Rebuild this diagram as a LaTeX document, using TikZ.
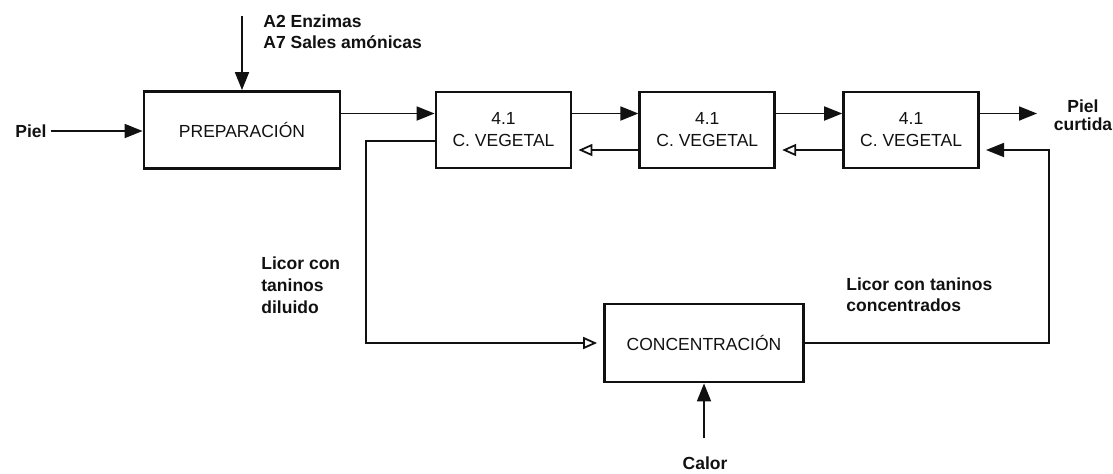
\documentclass[tikz,border=0pt]{standalone}
\usepackage{fontspec}
\setmainfont{Liberation Sans}
\usepackage{tikz}
\usetikzlibrary{positioning,arrows.meta,calc}
\definecolor{ink}{HTML}{111111}
\tikzset{
  box/.style={
    draw=ink, line width=1.4pt, align=center, inner sep=2pt,
    font=\fontsize{8.75}{11}\selectfont, text=ink,
  },
  stage/.style  ={box, minimum width=67.5pt, minimum height=38pt},
  flow/.style   ={-{Triangle[length=9pt,width=7pt]}, draw=ink, line width=0.9pt},
  backflow/.style={-{Triangle[open,length=7pt,width=6pt]}, draw=ink,
                  line width=0.9pt, shorten >=3pt},
  lbl/.style    ={font=\bfseries\fontsize{8.75}{10.5}\selectfont, text=ink,
                  align=left, inner sep=2pt},
}

\begin{document}
\begin{tikzpicture}[x=0.5pt, y=-0.5pt]
\useasboundingbox (0,0) rectangle (1113,473);

% ============================================ upper row: preparation + tanning
\node[box, minimum width=98pt, minimum height=38.5pt] (prep) at (242,130)
  {PREPARACIÓN};
\node[stage] (veg1) at (503.5,130) {4.1\\C. VEGETAL};
\node[stage, right=33pt of veg1] (veg2) {4.1\\C. VEGETAL};
\node[stage, right=33pt of veg2] (veg3) {4.1\\C. VEGETAL};

\node[lbl] (piel) at (31,131) {Piel};
\draw[flow] (piel.east) -- (prep.west |- piel.east);

\coordinate (addin) at (242,16);
\node[lbl, anchor=west] (adds) at (259,32) {A2 Enzimas\\A7 Sales amónicas};
\draw[flow] (addin) -- (prep.north);

% hides go forward along the top, the liquor goes back underneath
\draw[flow] ($(prep.east)+(0,-16.5)$) -- ($(veg1.west)+(0,-16.5)$);
\draw[flow] ($(veg1.east)+(0,-16.5)$) -- ($(veg2.west)+(0,-16.5)$);
\draw[flow] ($(veg2.east)+(0,-16.5)$) -- ($(veg3.west)+(0,-16.5)$);
\draw[backflow] ($(veg2.west)+(0,20)$) -- ($(veg1.east)+(0,20)$);
\draw[backflow] ($(veg3.west)+(0,20)$) -- ($(veg2.east)+(0,20)$);

\node[lbl, align=center, font=\bfseries\fontsize{8.75}{9}\selectfont]
  (curt) at (1083,115) {Piel\\curtida};
\coordinate (outend) at (1037,113.5);
\draw[flow] (veg3.east |- outend) -- (outend);

% ============================================ lower loop: liquor concentration
\node[box, minimum width=99.5pt, minimum height=39pt] (conc) at (704,343)
  {CONCENTRACIÓN};

\draw[backflow] ($(veg1.west)+(0,11)$) -- ++(-69,0) |- (conc.west);
\node[lbl, anchor=west, font=\bfseries\fontsize{8.75}{11}\selectfont]
  (dil) at (257,285) {Licor con\\taninos\\diluido};

\draw[flow, shorten >=3pt] (conc.east) -- ++(244,0) |- ($(veg3.east)+(0,20)$);
\node[lbl, anchor=west] (concd) at (842,295) {Licor con taninos\\concentrados};

\node[lbl] (calor) at (705,463) {Calor};
\draw[flow] (conc.south |- calor.north) ++(0,-14) -- (conc.south);

\end{tikzpicture}
\end{document}
